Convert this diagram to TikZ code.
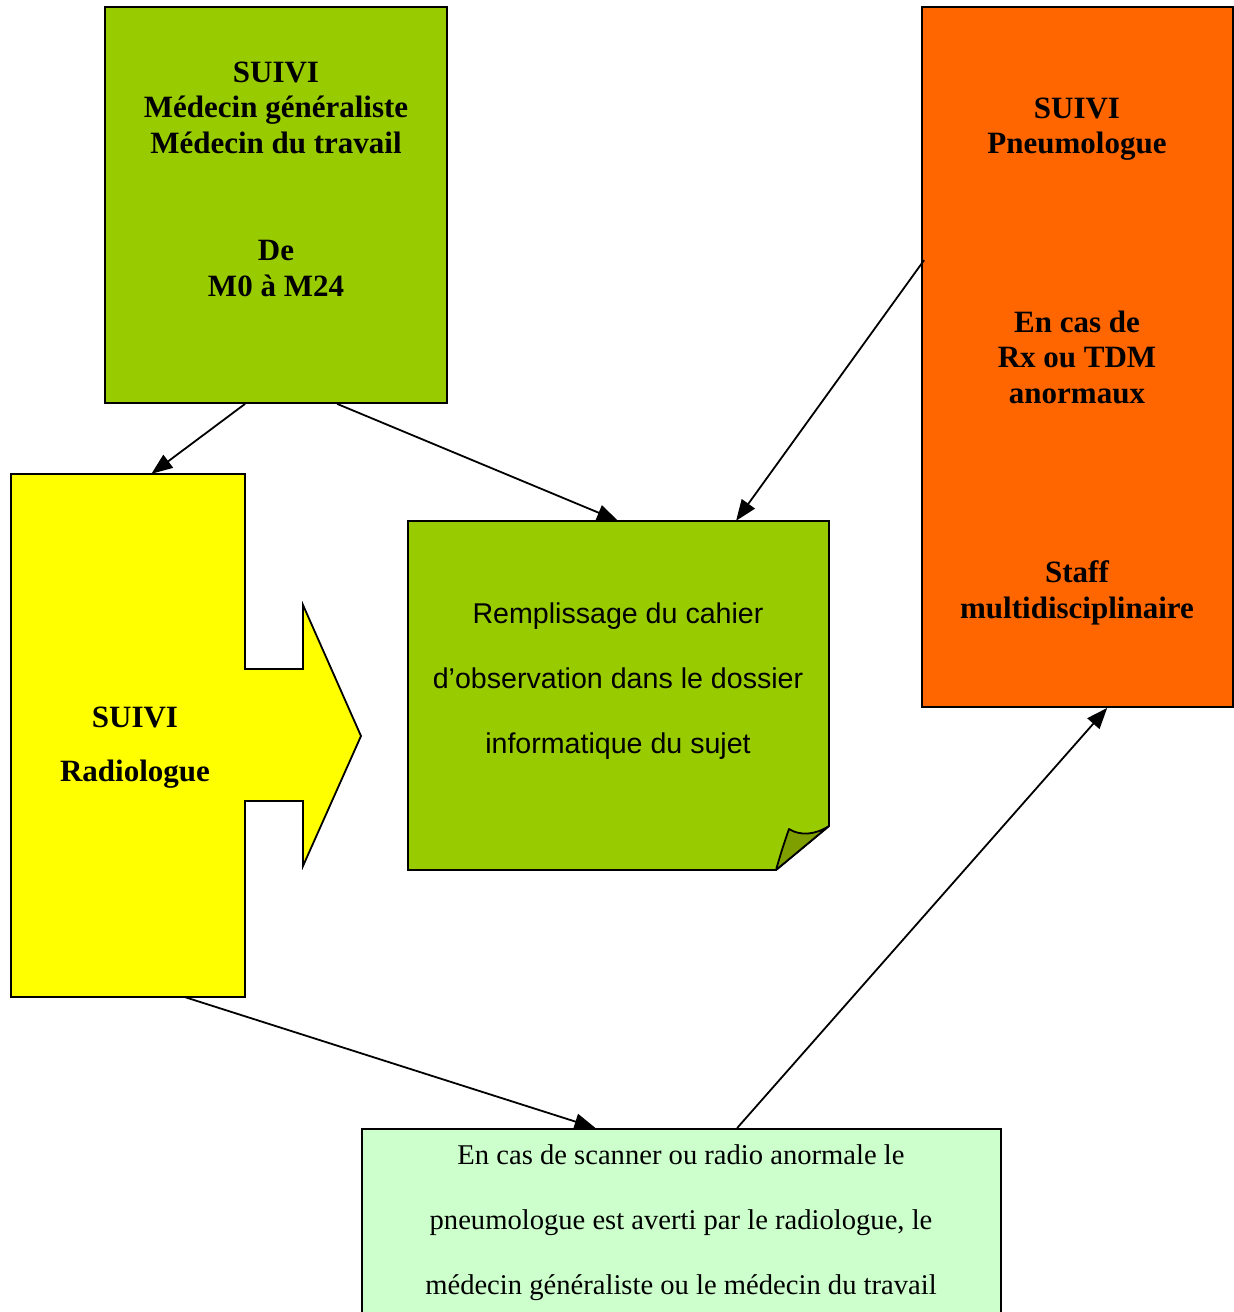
\documentclass[tikz,border=0pt]{standalone}
\usepackage{fontspec}
\setmainfont{Liberation Serif}
\setsansfont{Liberation Sans}
\usetikzlibrary{arrows.meta,calc}
\definecolor{cgreen}{HTML}{99CC00}
\definecolor{cfold}{HTML}{7F9F00}
\definecolor{corange}{HTML}{FF6600}
\definecolor{cyellow}{HTML}{FFFF00}
\definecolor{clight}{HTML}{CCFFCC}
\tikzset{
  box/.style={draw=black,line width=1.8pt,rectangle,inner sep=0pt},
  ghost/.style={rectangle,inner sep=0pt},
  btxt/.style={anchor=base,inner sep=0pt,font=\fontsize{31}{36}\selectfont\bfseries},
  stxt/.style={anchor=base,inner sep=0pt,font=\fontsize{28.6}{33}\selectfont\sffamily},
  rtxt/.style={anchor=base,inner sep=0pt,font=\fontsize{28.6}{33}\selectfont},
  conn/.style={line width=1.8pt,-{Triangle[length=21pt,width=16pt]}},
}
\begin{document}
\begin{tikzpicture}[x=1pt,y=-1pt]
\useasboundingbox (0,0) rectangle (1234,1312);
\fill[white] (0,0) rectangle (1234,1312);

% green box
\node[box,fill=cgreen,minimum width=342pt,minimum height=396pt] (g) at (276,205) {};
% orange box
\node[box,fill=corange,minimum width=311pt,minimum height=700pt] (o) at (1077.5,357) {};
% bottom box
\node[box,fill=clight,minimum width=639pt,minimum height=200pt,anchor=north west] (b) at (361,1128) {};

% yellow shape
\node[ghost,minimum width=234pt,minimum height=523pt] (y) at (128,735.5) {};
\draw[fill=cyellow,line width=1.8pt,line join=miter]
  (11,474) -- (245,474) -- (245,669) -- (303,669) -- (303,605) -- (361,736)
  -- (303,866) -- (303,801) -- (245,801) -- (245,997) -- (11,997) -- cycle;

% note with folded corner
\node[ghost,minimum width=421pt,minimum height=349pt] (n) at (618.5,695.5) {};
\draw[fill=cgreen,line width=1.8pt,line join=miter]
  (408,521) -- (829,521) -- (829,826) -- (776,870) -- (408,870) -- cycle;
\draw[fill=cfold,line width=1.8pt,line join=round]
  (829,826) .. controls (815,835) and (800,836) .. (789,829)
  .. controls (784,843) and (780,856) .. (776,870) -- cycle;

% texts
\node[btxt] (g1) at (276,82) {SUIVI};
\node[btxt] (g2) at (276,117.5) {Médecin généraliste};
\node[btxt] (g3) at (276,153) {Médecin du travail};
\node[btxt] (g4) at (276,260) {De};
\node[btxt] (g5) at (276,296) {M0 à M24};

\node[btxt] (o1) at (1077,118) {SUIVI};
\node[btxt] (o2) at (1077,153) {Pneumologue};
\node[btxt] (o3) at (1077,332) {En cas de};
\node[btxt] (o4) at (1077,367) {Rx ou TDM};
\node[btxt] (o5) at (1077,403) {anormaux};
\node[btxt] (o6) at (1077,582) {Staff};
\node[btxt] (o7) at (1077,618) {multidisciplinaire};

\node[btxt] (y1) at (135,727) {SUIVI};
\node[btxt] (y2) at (135,781) {Radiologue};

\node[stxt] (n1) at (618,623) {Remplissage du cahier};
\node[stxt] (n2) at (618,688) {d’observation dans le dossier};
\node[stxt] (n3) at (618,753) {informatique du sujet};

\node[rtxt] (b1) at (681,1164) {En cas de scanner ou radio anormale le};
\node[rtxt] (b2) at (681,1229) {pneumologue est averti par le radiologue, le};
\node[rtxt] (b3) at (681,1294) {médecin généraliste ou le médecin du travail};

% connectors
\draw[conn] ($(g.south west)!0.41!(g.south east)$) -- ($(y.north west)!0.6!(y.north east)$);
\draw[conn] ($(g.south west)!0.678!(g.south east)$) -- ($(n.north west)!0.499!(n.north east)$);
\draw[conn] ($(o.north west)!0.362!(o.south west)+(3,0)$) -- ($(n.north west)!0.779!(n.north east)$);
\draw[conn] ($(y.south west)!0.744!(y.south east)$) -- ($(b.north west)!0.366!(b.north east)$);
\draw[conn] ($(b.north west)!0.587!(b.north east)$) -- ($(o.south west)!0.595!(o.south east)$);
\end{tikzpicture}
\end{document}
